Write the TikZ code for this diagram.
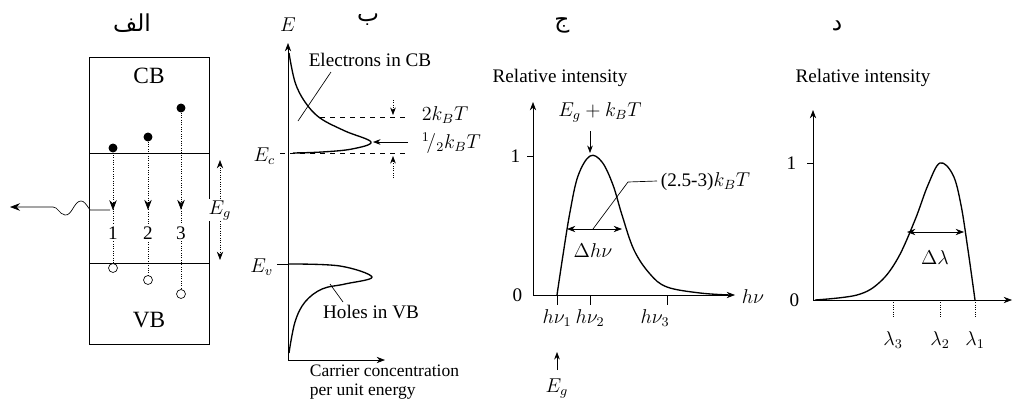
\documentclass[tikz,border=0pt]{standalone}
\usepackage{fontspec}
\setmainfont{Liberation Serif}
\newfontfamily\arabicfont[Script=Arabic]{DejaVu Sans}
\TeXXeTstate=1
\usetikzlibrary{arrows.meta,decorations.markings}
\tikzset{
  axis/.style={-{Stealth[length=5pt]},thin},
  curve/.style={thick},
  elec/.style={circle,fill,inner sep=1.9pt},
  hole/.style={circle,draw,fill=white,inner sep=1.9pt},
  trans/.style={densely dotted,postaction={decorate},
    decoration={markings,mark=at position #1 with {\arrow{Stealth[length=6pt]}}}},
  dimarr/.style={densely dotted,{Stealth[length=5pt]}-{Stealth[length=5pt]}},
  harr/.style={thin,{Stealth[length=5pt]}-{Stealth[length=5pt]}},
  sarr/.style={thin,-{Stealth[length=4.5pt]}},
  lvl/.style={dashed,thin},
  tk/.style={thin},
  panel/.style={font=\arabicfont\fontsize{14}{16}\selectfont},
  big/.style={font=\fontsize{14}{16}\selectfont},
  small/.style={font=\fontsize{10.5}{12}\selectfont},
  every node/.style={font=\fontsize{11.5}{13}\selectfont}
}
\begin{document}
\begin{tikzpicture}[x=0.6pt,y=-0.6pt]
\useasboundingbox (0,0) rectangle (1013,403);
% panel labels
\node[panel] (la) at (132,23) {\beginR الف\endR};
\node[panel] (lb) at (368,20) {\beginR ب\endR};
\node[panel] (lc) at (562,25) {\beginR ج\endR};
\node[panel] (ld) at (837,26) {\beginR د\endR};

% band diagram
\draw (89,57) rectangle (209,344);
\draw (89,153) -- (209,153);
\draw (89,263) -- (209,263);
\node[big] (cb) at (149,76) {CB};
\node[big] (vb) at (149,320) {VB};
\foreach \i/\x/\ye/\yh/\p in {1/113/148/268/0.52, 2/148/137/280/0.51, 3/181/108/294/0.55} {
  \node[elec] (e\i) at (\x,\ye) {};
  \node[hole] (h\i) at (\x,\yh) {};
  \draw[trans=\p] (e\i) -- (h\i);
  \node[fill=white,inner sep=1pt] (n\i) at (\x,233) {\i};
}
% photon
\coordinate (ph0) at (110,210);
\coordinate (ph1) at (10,207);
\draw[-{Stealth[length=6pt]}] (ph0) -- (90,210)
  .. controls (86,204) and (84,201) .. (81,201)
  .. controls (74,201) and (72,216) .. (65,215)
  .. controls (59,214) and (58,207) .. (53,207) -- (ph1);
% gap
\coordinate (g0) at (220,160);
\coordinate (g1) at (220,260);
\draw[dimarr] (g0) -- node[fill=white,inner sep=1pt] (eg) {$E_g$} (g1);

% carrier distributions
\coordinate (ob) at (288,360);
\draw[axis] (ob) -- (288,43);
\draw[axis] (ob) -- (385,360);
\node (el) at (288,25) {$E$};
\node[anchor=east] (ec) at (281,156) {$E_c$};
\node[anchor=east] (ev) at (279,267) {$E_v$};
\draw[lvl] (280,153) -- (408,153);
\draw[lvl] (320,117) -- (408,117);
\draw[tk] (277,264) -- (288,264);
\draw[curve] plot[smooth,tension=0.6] coordinates {(289,53) (295,82) (305,102)
  (320,118) (345,131) (371,142) (352,149) (322,152) (293,153)};
\draw[curve] plot[smooth,tension=0.6] coordinates {(289,264) (340,266) (372,277)
  (345,284) (322,289) (305,302) (295,322) (289,353)};
\node (ecb) at (370,60) {Electrons in CB};
\coordinate (p1) at (331,72);
\coordinate (p2) at (298,121);
\draw[tk] (p1) -- (p2);
\node (hvb) at (371,312) {Holes in VB};
\coordinate (p3) at (343,302);
\coordinate (p4) at (330,284);
\draw[tk] (p3) -- (p4);
\node[anchor=west] (kt2) at (416,115) {$2k_BT$};
\node[anchor=west] (kth) at (416,143) {$^1\!/_2k_BT$};
\coordinate (a1) at (393,100);
\coordinate (a2) at (393,115);
\coordinate (a3) at (393,178);
\coordinate (a4) at (393,156);
\coordinate (a5) at (408,142);
\coordinate (a6) at (373,142);
\draw[sarr,densely dotted] (a1) -- (a2);
\draw[sarr,densely dotted] (a3) -- (a4);
\draw[sarr] (a5) -- (a6);
\node[small,anchor=west] (cc1) at (304,371) {Carrier concentration};
\node[small,anchor=west] (cc2) at (304,392) {per unit energy};

% emission vs photon energy
\coordinate (oc) at (533,295);
\draw[axis] (oc) -- (533,102);
\draw[axis] (oc) -- (735,295);
\node (ri1) at (560,78) {Relative intensity};
\node[anchor=east] (c0) at (528,295) {0};
\node[anchor=east] (c1) at (526,156) {1};
\draw[tk] (527,156) -- (533,156);
\node[anchor=west] (hnu) at (736,297) {$h\nu$};
\draw[curve] plot[smooth,tension=0.6] coordinates {(557,295) (563,255) (570,212)
  (578,176) (590,156) (602,162) (613,185) (622,215) (634,250) (650,274)
  (667,287) (700,293) (730,295)};
\foreach \i/\x/\lx in {1/557/557, 2/590/590, 3/667/655} {
  \draw[tk] (\x,295) -- (\x,305);
  \node (hn\i) at (\lx,318) {$h\nu_\i$};
}
\node (egk) at (600,112) {$E_g+k_BT$};
\coordinate (b1) at (590,131);
\coordinate (b2) at (590,153);
\draw[sarr] (b1) -- (b2);
\coordinate (b3) at (557,370);
\coordinate (b4) at (557,352);
\draw[sarr] (b3) -- (b4);
\node (egc) at (557,388) {$E_g$};
\node[anchor=west] (wid) at (655,182) {(2.5-3)$k_BT$};
\draw[tk] (657,181) -- (628,182) -- (593,229);
\coordinate (d1) at (567,229);
\coordinate (d2) at (622,229);
\draw[harr] (d1) -- (d2);
\node (dhn) at (593,251) {$\Delta h\nu$};

% emission vs wavelength
\coordinate (od) at (813,300);
\draw[axis] (od) -- (813,110);
\draw[axis] (od) -- (1012,300);
\node (ri2) at (863,78) {Relative intensity};
\node[anchor=east] (d0) at (805,300) {0};
\node[anchor=east] (d1l) at (802,163) {1};
\draw[tk] (807,163) -- (813,163);
\draw[curve] plot[smooth,tension=0.6] coordinates {(815,300) (857,295) (880,282)
  (898,258) (915,220) (928,185) (940,163) (953,175) (961,205) (968,250) (975,300)};
\foreach \i/\x in {3/893, 2/940, 1/975} {
  \draw[tk,densely dotted] (\x,300) -- (\x,318);
  \node (lam\i) at (\x,340) {$\lambda_\i$};
}
\coordinate (f1) at (907,232);
\coordinate (f2) at (964,232);
\draw[harr] (f1) -- (f2);
\node (dl) at (935,258) {$\Delta\lambda$};
\end{tikzpicture}
\end{document}
